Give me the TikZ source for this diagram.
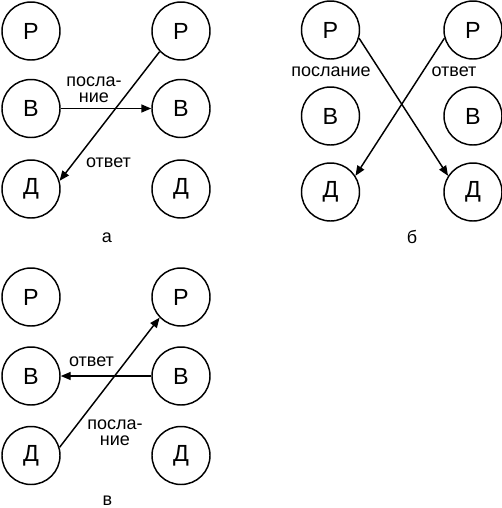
\documentclass[tikz,border=0pt]{standalone}
\usepackage{fontspec}
\setmainfont{Liberation Sans}
\usetikzlibrary{arrows.meta}
\begin{document}
\begin{tikzpicture}[x=0.75pt,y=-0.75pt,
  st/.style={draw, circle, line width=1.1pt, minimum size=43.5pt, inner sep=0pt, font=\fontsize{17.5}{19}\selectfont},
  msg/.style={line width=1.1pt, -{Triangle[length=7.5pt,width=6pt]}},
  lbl/.style={font=\fontsize{13.5}{12}\selectfont, inner sep=0pt, align=center},
  panelcap/.style={font=\fontsize{13.5}{14}\selectfont, inner sep=0pt}]
\useasboundingbox (0,0) rectangle (502,508);
% panel a
\node[st] (aP1) at (31,31) {Р};
\node[st] (aB1) at (31,108.5) {В};
\node[st] (aD1) at (31,189) {Д};
\node[st] (aP2) at (181,31) {Р};
\node[st] (aB2) at (181,108.5) {В};
\node[st] (aD2) at (181,189) {Д};
\draw[msg] (aB1) -- (aB2);
\draw[msg] (aP2.224) -- (aD1.16);
\node[lbl] (aL1) at (94,90) {посла-\\ние};
\node[lbl] (aL2) at (108.5,162.5) {ответ};
\node[panelcap] (aC) at (107,238) {а};
% panel b
\node[st] (bP1) at (330.5,30) {Р};
\node[st] (bB1) at (330.5,116) {В};
\node[st] (bD1) at (330.5,192) {Д};
\node[st] (bP2) at (473,30) {Р};
\node[st] (bB2) at (473,116) {В};
\node[st] (bD2) at (473,192) {Д};
\draw[msg] (bP1.-16) -- (bD2.147);
\draw[msg] (bP2.196) -- (bD1.33);
\node[lbl] (bL1) at (331,72) {послание};
\node[lbl] (bL2) at (454,72) {ответ};
\node[panelcap] (bC) at (412,237) {б};
% panel c
\node[st] (cP1) at (31,297) {Р};
\node[st] (cB1) at (31,376) {В};
\node[st] (cD1) at (31,455.5) {Д};
\node[st] (cP2) at (181,297) {Р};
\node[st] (cB2) at (181,376) {В};
\node[st] (cD2) at (181,455.5) {Д};
\draw[msg] (cB2) -- (cB1);
\draw[msg] (cD1.16) -- (cP2.224);
\node[lbl] (cL1) at (91.5,362) {ответ};
\node[lbl] (cL2) at (115,433) {посла-\\ние};
\node[panelcap] (cC) at (107.5,501) {в};
\end{tikzpicture}
\end{document}
